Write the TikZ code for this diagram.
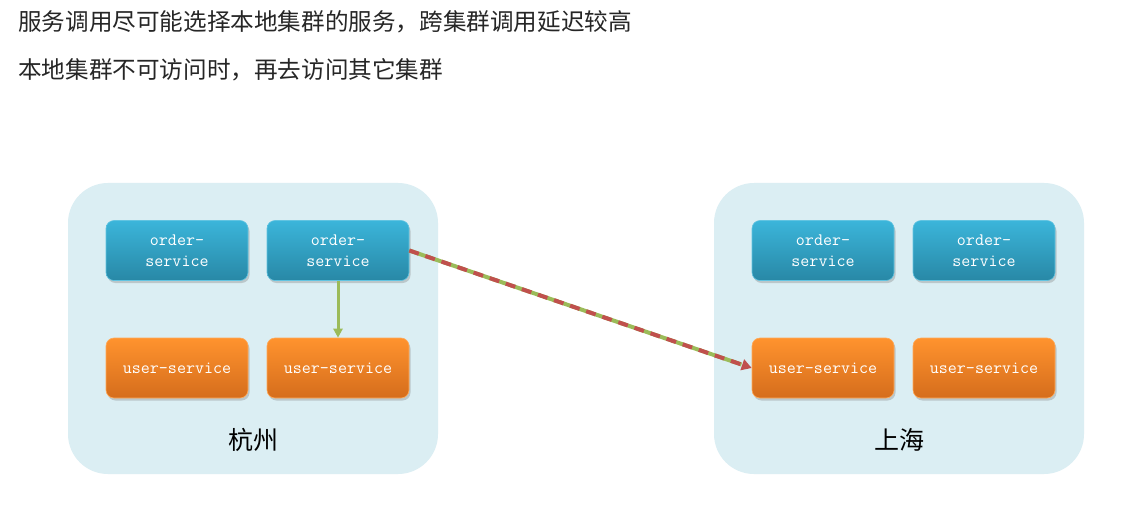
\documentclass[tikz,border=0pt]{standalone}
\usepackage{fontspec}
\newfontfamily\cjk{Noto Sans CJK SC}
\usetikzlibrary{arrows.meta,shadows,calc}
\definecolor{clusterbg}{HTML}{DBEEF3}
\definecolor{blueTop}{HTML}{3BB5DA}
\definecolor{blueBot}{HTML}{2888A6}
\definecolor{orangeTop}{HTML}{FF932E}
\definecolor{orangeBot}{HTML}{D56D1C}
\definecolor{linkgreen}{HTML}{9BBB59}
\definecolor{linkred}{HTML}{C0504D}
\tikzset{
  cluster/.style={fill=clusterbg, rounded corners=40pt, minimum width=370pt, minimum height=291pt, inner sep=0pt},
  svcbox/.style={rounded corners=8pt, minimum width=142pt, minimum height=60pt, inner sep=0pt,
    text=white, font=\fontsize{17.5}{21}\selectfont\ttfamily, align=center,
    drop shadow={shadow xshift=1.5pt, shadow yshift=-2.5pt, opacity=0.35, fill=gray}},
  orderbox/.style={svcbox, top color=blueTop, bottom color=blueBot, draw=blueTop!80!white, line width=0.6pt},
  userbox/.style={svcbox, top color=orangeTop, bottom color=orangeBot, draw=orangeTop!80!white, line width=0.6pt},
  citylabel/.style={font=\cjk\fontsize{25}{28}\selectfont, text=black},
  titletext/.style={font=\cjk\fontsize{23.6}{28}\selectfont, text=black!85, anchor=west, inner sep=0pt},
}
\begin{document}
\begin{tikzpicture}[x=1pt,y=-1pt]
\useasboundingbox (0,0) rectangle (1142,505);
\fill[white] (0,0) rectangle (1142,505);

\node[titletext] (t1) at (18,22) {服务调用尽可能选择本地集群的服务，跨集群调用延迟较高};
\node[titletext] (t2) at (18,70) {本地集群不可访问时，再去访问其它集群};

\node[cluster] (hz) at (253,328.5) {};
\node[cluster] (sh) at (899,328.5) {};

\node[orderbox] (o1) at (177,250.5) {order-\\service};
\node[orderbox] (o2) at (338,250.5) {order-\\service};
\node[userbox] (u1) at (177,368) {user-service};
\node[userbox] (u2) at (338,368) {user-service};

\node[orderbox] (o3) at (823,250.5) {order-\\service};
\node[orderbox] (o4) at (984,250.5) {order-\\service};
\node[userbox] (u3) at (823,368) {user-service};
\node[userbox] (u4) at (984,368) {user-service};

\node[citylabel] (lhz) at (253,440) {杭州};
\node[citylabel] (lsh) at (899,440) {上海};

\draw[linkgreen, line width=3pt, -{Triangle[length=9pt,width=9pt]}] (o2.south) -- (u2.north);

\draw[linkgreen, line width=4pt] (o2.east) -- ($(o2.east)!0.97!(u3.west)$);
\draw[linkred, line width=4pt, dash pattern=on 10pt off 7pt, -{Triangle[length=10pt,width=11pt]}] (o2.east) -- (u3.west);
\end{tikzpicture}
\end{document}
